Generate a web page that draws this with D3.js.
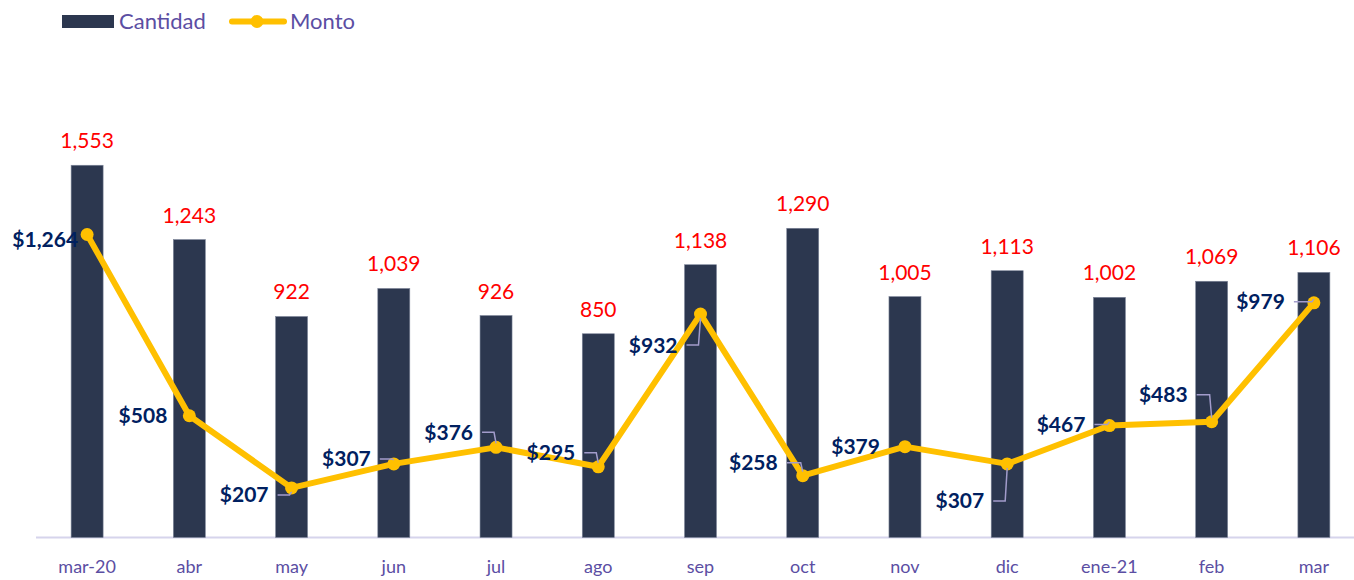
<!DOCTYPE html>
<html><head><meta charset="utf-8">
<script src="https://cdn.jsdelivr.net/npm/d3@7"></script>
<style>body{margin:0;background:#fff}svg{display:block;font-family:Lato,"Open Sans",sans-serif}</style>
</head><body><svg id="c" width="1354" height="580"></svg>
<script>
const categories = ["mar-20","abr","may","jun","jul","ago","sep","oct","nov","dic","ene-21","feb","mar"];
const cantidad = [1553,1243,922,1039,926,850,1138,1290,1005,1113,1002,1069,1106];
const monto = [1264,508,207,307,376,295,932,258,379,307,467,483,979];
const seriesNames = ["Cantidad","Monto"];
// label placement for Monto labels: [dx of text right end, dy of text centre, leader?]
const montoLabelPos = [[-9,5,0],[-22,0,0],[-23,7,1],[-23,-5,1],[-23,-15,1],[-23,-14,1],[-23,31,1],[-25,-13,1],[-25,0,0],[-23,37,1],[-24,-1,1],[-24,-27,1],[-29,-1,1]];

const svg = d3.select("#c");
const x = d3.scaleBand().domain(categories).range([36,1365]).paddingInner(0.687).paddingOuter(0.3435);
const y = d3.scaleLinear().domain([0,1800]).range([537.5,537.5-1800*0.2397]);
const cx = d => x(d)+x.bandwidth()/2;

// axis
const ax = svg.append("g").attr("transform","translate(0,537.5)")
  .call(d3.axisBottom(x).tickSize(0).tickPadding(23));
ax.select(".domain").attr("stroke","#D6D4EC").attr("stroke-width",2).attr("d","M36,0H1354");
ax.selectAll("text").attr("fill","#5B4EA3").attr("font-size",18).attr("font-family","Lato");

// bars
svg.append("g").selectAll("rect").data(cantidad).join("rect")
  .attr("x",(d,i)=>x(categories[i])).attr("width",x.bandwidth())
  .attr("y",d=>y(d)).attr("height",d=>y(0)-y(d))
  .attr("fill","#2C374F").attr("stroke","#7E869A").attr("stroke-width",0.6);

// bar labels
svg.append("g").selectAll("text").data(cantidad).join("text")
  .attr("x",(d,i)=>cx(categories[i])).attr("y",d=>y(d)-17)
  .attr("text-anchor","middle").attr("fill","#FF0000").attr("font-size",21)
  .text(d=>d3.format(",")(d));

// line
const line = d3.line().x((d,i)=>cx(categories[i])).y(d=>y(d));
svg.append("path").datum(monto).attr("d",line).attr("fill","none")
  .attr("stroke","#FFC000").attr("stroke-width",6).attr("stroke-linejoin","round");
svg.append("g").selectAll("circle").data(monto).join("circle")
  .attr("cx",(d,i)=>cx(categories[i])).attr("cy",d=>y(d)).attr("r",6.5).attr("fill","#FFC000");

// leaders
const lg = svg.append("g");
monto.forEach((d,i)=>{
  const p=montoLabelPos[i]; if(!p[2]) return;
  const px=cx(categories[i]), py=y(d);
  const ly=py+p[1];
  const x0=px+p[0]+9, x1=px-2;
  const ey = ly<py ? py-4 : (ly>py ? py+4 : py);
  lg.append("path").attr("d",`M${x0},${ly}H${x1}L${px},${ey}`)
    .attr("fill","none").attr("stroke","#A29CCB").attr("stroke-width",1.5);
});
// monto labels
svg.append("g").selectAll("text").data(monto).join("text")
  .attr("x",(d,i)=>cx(categories[i])+montoLabelPos[i][0])
  .attr("y",(d,i)=>y(d)+montoLabelPos[i][1]).attr("dy","0.36em")
  .attr("text-anchor","end").attr("fill","#002060").attr("font-weight","bold").attr("font-size",21)
  .text(d=>"$"+d3.format(",")(d));

// legend
const leg = svg.append("g");
leg.append("rect").attr("x",62).attr("y",15).attr("width",52).attr("height",13).attr("fill","#2C374F");
leg.append("text").attr("x",119).attr("y",21.5).attr("dy","0.36em").attr("fill","#5B4EA3").attr("font-size",22).text(seriesNames[0]);
leg.append("line").attr("x1",232).attr("x2",284).attr("y1",21.5).attr("y2",21.5).attr("stroke","#FFC000").attr("stroke-width",6).attr("stroke-linecap","round");
leg.append("circle").attr("cx",257).attr("cy",21.5).attr("r",6.5).attr("fill","#FFC000");
leg.append("text").attr("x",290).attr("y",21.5).attr("dy","0.36em").attr("fill","#5B4EA3").attr("font-size",22).text(seriesNames[1]);
</script></body></html>
